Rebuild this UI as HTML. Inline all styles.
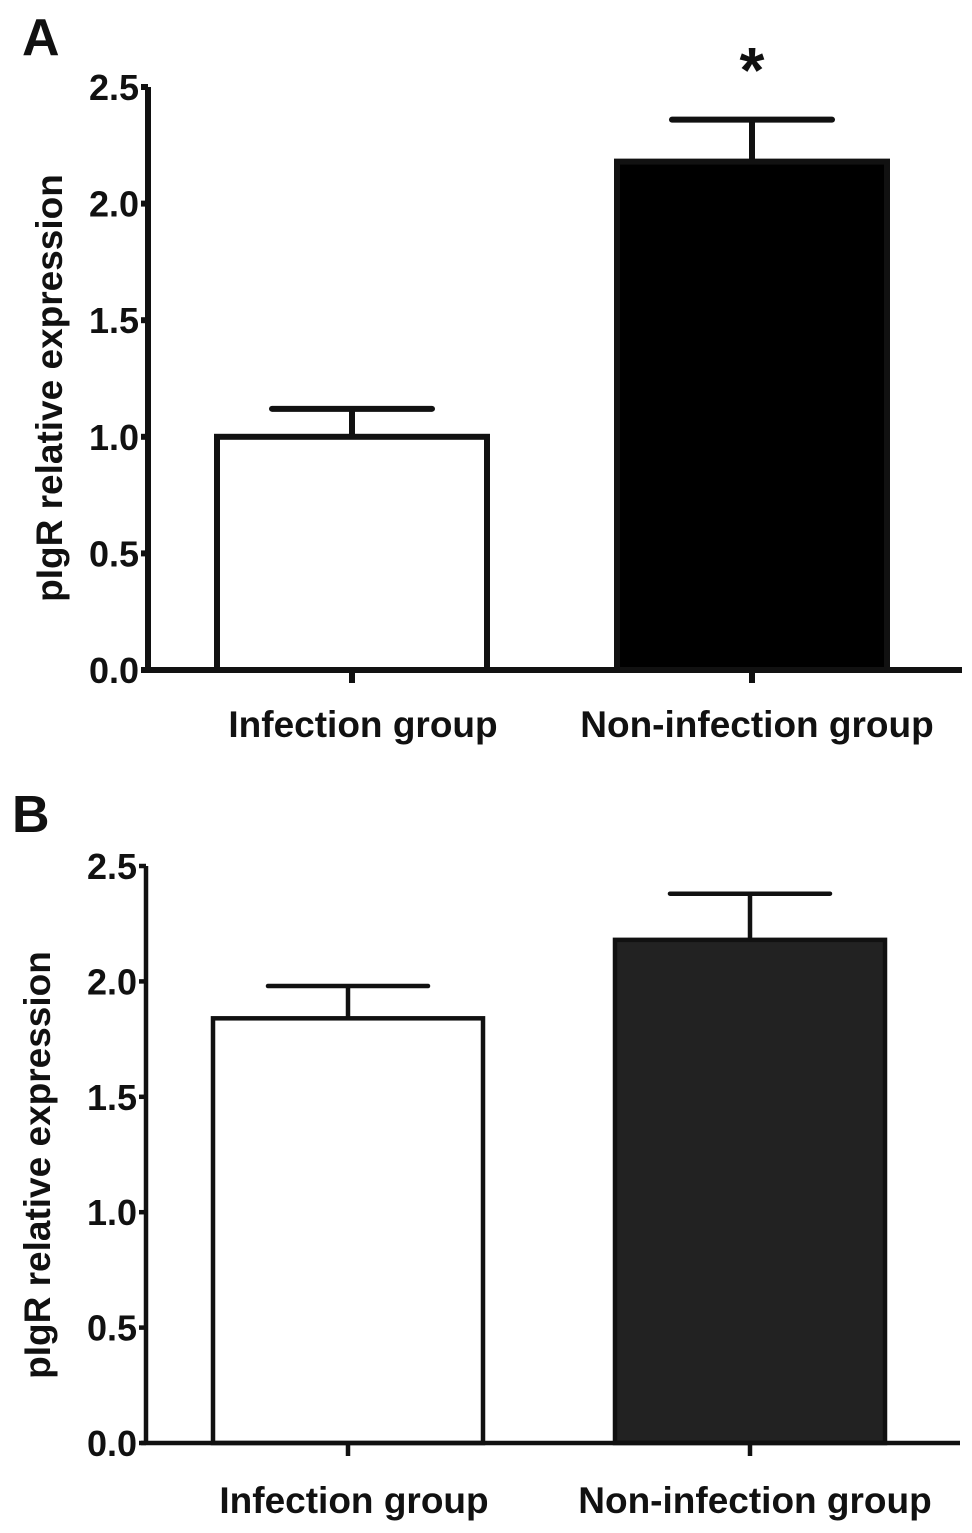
<!DOCTYPE html>
<html><head><meta charset="utf-8">
<style>
html,body{margin:0;padding:0;background:#fff;}
svg{display:block;}
text{font-family:"Liberation Sans",Arial,sans-serif;font-weight:bold;fill:#111;}
</style></head>
<body>
<svg id="chart" width="972" height="1533" viewBox="0 0 972 1533" xmlns="http://www.w3.org/2000/svg"></svg>
<script>
const categories = ["Infection group", "Non-infection group"];
const valuesA = [1.0, 2.18];
const errorsA = [1.12, 2.36];
const valuesB = [1.84, 2.18];
const errorsB = [1.98, 2.38];
const tickLabels = ["0.0", "0.5", "1.0", "1.5", "2.0", "2.5"];
const tickValues = [0, 0.5, 1.0, 1.5, 2.0, 2.5];

const svg = document.getElementById('chart');
const NS = "http://www.w3.org/2000/svg";
function mk(tag, attrs, name, parent) {
  const el = document.createElementNS(NS, tag);
  for (const k in attrs) el.setAttribute(k, attrs[k]);
  
  
  (parent || svg).appendChild(el);
  return el;
}

function panel(cfg) {
  const g = mk('g', {}, cfg.id);
  const y = v => cfg.y0 - (v / 2.5) * (cfg.y0 - cfg.y25);
  const sw = cfg.sw;
  const L = mk('text', {x: cfg.letterX, y: cfg.letterY, 'font-size': 52}, 'panel-label', g);
  L.textContent = cfg.letter;
  const yt = mk('text', {x: 0, y: 0, 'font-size': 37, 'text-anchor': 'middle',
    transform: `translate(${cfg.titleX},${cfg.titleY}) rotate(-90)`}, 'y-axis-title', g);
  yt.textContent = "pIgR relative expression";
  for (let i = 0; i < categories.length; i++) {
    const x0 = cfg.barX[i], w = cfg.barW;
    const top = y(cfg.values[i]);
    const et = y(cfg.errors[i]);
    const cx = x0 + w / 2;
    mk('line', {x1: cx, y1: top, x2: cx, y2: et, stroke: '#111', 'stroke-width': sw}, 'error-bar-' + (i + 1), g);
    mk('line', {x1: cx - cfg.capW / 2, y1: et, x2: cx + cfg.capW / 2, y2: et, stroke: '#111', 'stroke-width': sw, 'stroke-linecap': 'round'}, 'error-cap-' + (i + 1), g);
    mk('rect', {x: x0, y: top, width: w, height: cfg.y0 - top, fill: cfg.fills[i], stroke: '#111', 'stroke-width': sw}, 'bar-' + (i + 1), g);
    mk('line', {x1: cx, y1: cfg.y0, x2: cx, y2: cfg.y0 + 13, stroke: '#111', 'stroke-width': sw}, 'x-tick', g);
    const t = mk('text', {x: cfg.labelX[i], y: cfg.labelY, 'font-size': 37, 'text-anchor': 'middle'}, 'x-tick-label', g);
    t.textContent = categories[i];
  }
  mk('line', {x1: cfg.axX, y1: y(2.5), x2: cfg.axX, y2: cfg.y0, stroke: '#111', 'stroke-width': sw}, 'y-axis', g);
  mk('line', {x1: cfg.axX - 5, y1: cfg.y0, x2: cfg.xEnd, y2: cfg.y0, stroke: '#111', 'stroke-width': sw}, 'x-axis', g);
  for (let i = 0; i < tickValues.length; i++) {
    const ty = y(tickValues[i]);
    mk('line', {x1: cfg.axX - 7, y1: ty, x2: cfg.axX, y2: ty, stroke: '#111', 'stroke-width': sw}, 'y-tick', g);
    const t = mk('text', {x: cfg.axX - 9, y: ty + 13, 'font-size': 36, 'text-anchor': 'end'}, 'y-tick-label', g);
    t.textContent = tickLabels[i];
  }
  if (cfg.star) {
    const s = mk('text', {x: cfg.barX[1] + cfg.barW / 2, y: 92, 'font-size': 64, 'text-anchor': 'middle'}, 'significance-asterisk', g);
    s.textContent = "*";
  }
}

panel({id: 'panel-a', letter: 'A', letterX: 22, letterY: 55, titleX: 62, titleY: 388, axX: 148, y0: 670, y25: 87,
  xEnd: 962, barX: [217, 617], barW: 270, capW: 160, sw: 6, values: valuesA, errors: errorsA,
  fills: ['#fff', '#000'], labelY: 737, labelX: [363, 757], star: true});
panel({id: 'panel-b', letter: 'B', letterX: 12, letterY: 832, titleX: 50, titleY: 1165, axX: 146, y0: 1443, y25: 866,
  xEnd: 960, barX: [213, 615], barW: 270, capW: 160, sw: 4.5, values: valuesB, errors: errorsB,
  fills: ['#fff', '#222'], labelY: 1513, labelX: [354, 755], star: false});
</script>
</body></html>
